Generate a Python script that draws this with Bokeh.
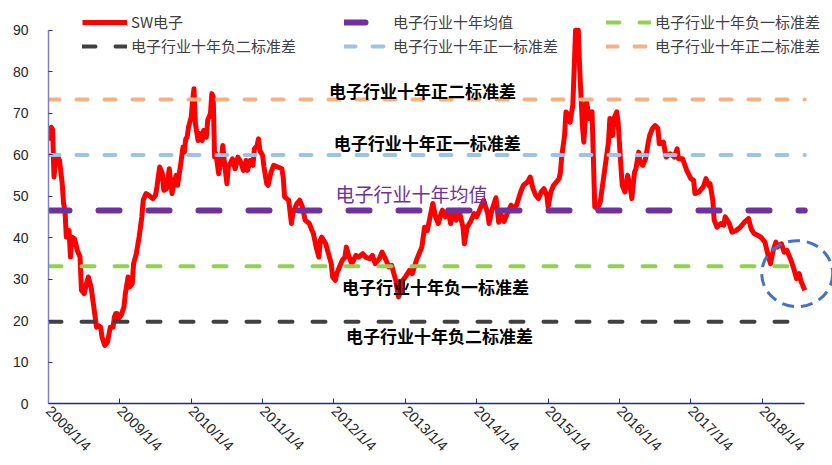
from bokeh.plotting import figure
from bokeh.models import Range1d, FixedTicker, Legend, LegendItem, Label
from bokeh.embed import file_html
from bokeh.resources import INLINE

# SW electronics index valuation, weekly samples counted from 2008/1/4
weeks = [0, 2, 3, 4, 5, 7, 8, 10, 11, 12, 13, 15, 16, 17, 19, 21, 23, 24, 26, 28,
         29, 31, 33, 35, 36, 38, 39, 41, 43, 45, 47, 48, 49, 50, 51, 53, 55, 56, 58, 59,
         61, 62, 64, 66, 67, 68, 69, 71, 73, 76, 78, 79, 81, 83, 84, 86, 88, 90, 91, 93,
         94, 96, 98, 99, 100, 101, 102, 104, 105, 106, 107, 109, 110, 112, 113, 115, 116, 118, 119, 120,
         121, 122, 124, 126, 127, 128, 130, 131, 133, 134, 136, 138, 140, 142, 144, 145, 147, 149, 150, 152,
         153, 154, 156, 157, 159, 160, 162, 164, 167, 170, 171, 172, 175, 177, 178, 181, 183, 185, 187, 190,
         192, 193, 195, 197, 198, 199, 202, 204, 206, 207, 209, 210, 212, 214, 216, 217, 219, 221, 224, 226,
         229, 231, 234, 236, 238, 241, 243, 246, 248, 250, 253, 255, 257, 258, 260, 263, 265, 268, 270, 272,
         274, 276, 279, 280, 282, 284, 286, 287, 289, 291, 293, 295, 297, 299, 302, 303, 305, 308, 310, 312,
         315, 317, 320, 321, 323, 326, 328, 330, 332, 334, 337, 339, 341, 344, 346, 349, 351, 353, 355, 357,
         359, 361, 363, 364, 366, 368, 370, 372, 373, 374, 376, 377, 379, 380, 382, 383, 384, 386, 387, 389,
         390, 392, 394, 396, 397, 398, 400, 402, 404, 406, 408, 409, 411, 412, 414, 415, 417, 418, 420, 422,
         424, 425, 427, 428, 430, 431, 433, 435, 437, 438, 440, 442, 444, 445, 448, 450, 453, 456, 458, 459,
         462, 465, 468, 470, 471, 474, 477, 479, 481, 482, 484, 485, 487, 490, 492, 493, 496, 498, 501, 504,
         507, 510, 512, 514, 517, 519, 522, 524, 526, 528, 530, 531, 534, 536, 538, 541, 543, 545, 547, 548,
         550, 551]
sw_pe = [63.4, 66.6, 66.0, 54.6, 58.6, 59.4, 58.6, 53.0, 48.2, 46.6, 40.1, 41.7, 35.3, 40.1, 39.7, 36.9, 35.3, 27.3, 26.5, 29.3,
         30.5, 28.1, 23.3, 18.4, 18.8, 18.4, 16.0, 14.0, 14.8, 18.4, 18.4, 20.8, 21.7, 21.7, 20.5, 21.3, 23.3, 26.5, 30.5, 28.1,
         28.9, 33.7, 36.1, 40.1, 42.5, 45.0, 49.0, 50.6, 50.2, 49.4, 50.2, 52.2, 57.0, 55.4, 51.4, 51.8, 56.6, 50.6, 52.6, 55.0,
         52.6, 57.0, 61.8, 60.6, 63.8, 64.2, 66.6, 69.1, 73.1, 75.9, 67.5, 63.4, 65.1, 63.4, 65.8, 64.2, 68.3, 69.9, 74.7, 73.9,
         59.4, 60.2, 55.4, 59.4, 62.2, 58.6, 53.0, 57.0, 58.2, 59.0, 56.6, 59.4, 58.2, 56.2, 58.6, 56.2, 58.6, 57.4, 61.4, 62.2,
         63.8, 61.0, 59.8, 57.0, 53.0, 52.6, 55.6, 57.4, 57.0, 56.6, 54.6, 49.8, 49.0, 43.4, 45.8, 48.2, 49.0, 47.4, 44.2, 43.4,
         41.7, 41.0, 37.7, 35.3, 39.3, 40.1, 38.5, 36.1, 33.7, 30.5, 29.7, 31.3, 32.9, 34.5, 35.3, 37.7, 35.3, 33.7, 35.7, 35.3,
         36.1, 35.3, 34.9, 35.7, 33.7, 34.9, 36.5, 34.5, 32.9, 33.3, 29.7, 25.7, 27.3, 29.7, 30.5, 32.1, 31.3, 34.5, 36.1, 37.7,
         42.5, 41.7, 46.6, 48.2, 45.0, 43.4, 45.8, 46.6, 45.0, 46.6, 43.4, 45.8, 44.2, 46.6, 42.5, 38.5, 42.5, 44.2, 45.8, 45.0,
         47.4, 49.0, 45.8, 43.4, 46.6, 49.6, 43.7, 45.4, 43.9, 45.6, 47.8, 47.0, 47.8, 51.0, 52.6, 53.4, 54.6, 51.8, 50.2, 49.4,
         51.0, 51.8, 50.2, 47.4, 51.0, 52.6, 53.4, 54.2, 55.8, 59.8, 64.6, 70.3, 69.5, 67.8, 71.9, 80.7, 90.0, 90.0, 80.7, 67.0,
         63.0, 72.7, 68.7, 70.3, 59.0, 47.4, 47.0, 48.6, 53.4, 58.2, 63.0, 68.7, 64.6, 68.7, 70.3, 67.8, 57.4, 52.6, 51.0, 55.0,
         51.8, 49.4, 55.8, 56.6, 60.6, 58.2, 57.4, 59.0, 63.0, 64.6, 66.3, 67.0, 66.3, 62.6, 63.0, 59.4, 60.2, 59.4, 61.4, 59.0,
         59.0, 56.2, 54.2, 53.8, 50.6, 51.0, 52.2, 54.2, 52.6, 53.0, 49.0, 44.2, 42.5, 43.4, 43.0, 45.0, 43.4, 41.3, 41.7, 42.5,
         43.7, 44.6, 42.1, 41.0, 40.5, 40.1, 38.9, 36.1, 33.7, 36.9, 38.9, 37.7, 38.5, 36.5, 36.9, 34.5, 32.5, 30.1, 31.3, 29.7,
         28.1, 27.3]

# ten-year mean and +/- 1, 2 standard deviation levels
mean_level = 46.5
minus1_level = 33.1
minus2_level = 19.7
plus1_level = 59.9
plus2_level = 73.3

tick_labels = ["2008/1/4", "2009/1/4", "2010/1/4", "2011/1/4", "2012/1/4", "2013/1/4",
               "2014/1/4", "2015/1/4", "2016/1/4", "2017/1/4", "2018/1/4"]
weeks_per_label = 52
y_ticks = [0, 10, 20, 30, 40, 50, 60, 70, 80, 90]

CJK = "Noto Sans CJK SC"

# the frame reaches the top edge so the legend rows have room; the y axis itself stops at 90
p = figure(width=832, height=465, output_backend="svg", toolbar_location=None,
           x_range=Range1d(0, 571.2), y_range=Range1d(0, 97.15),
           min_border_left=48, min_border_right=0, min_border_top=0, min_border_bottom=62)
p.outline_line_color = None
p.xgrid.grid_line_color = None
p.ygrid.grid_line_color = None
p.background_fill_color = "white"

# main index line
sw = p.line(weeks, sw_pe, line_color="#FF0000", line_width=5, line_join="round")

x_span = [weeks[0], weeks[-1]]
def level_line(level, color, width, dash):
    return p.line(x_span, [level, level], line_color=color, line_width=width,
                  line_dash=dash, line_cap="round")

r_mean = level_line(mean_level, "#7030A0", 6, "21 29")
r_m1 = level_line(minus1_level, "#92D050", 4, "13 20")
r_m2 = level_line(minus2_level, "#404040", 4, "13 20")
r_p1 = level_line(plus1_level, "#9DC3E6", 4, "11 17")
r_p2 = level_line(plus2_level, "#F4B183", 4, "11 17")

# dashed highlight around the latest readings
p.ellipse(x=[545.5], y=[31.3], width=71, height=66, width_units="screen", height_units="screen",
          fill_color=None, line_color="#4472C4", line_width=3, line_dash="12 7")

# axes
xa = p.xaxis[0]
xa.ticker = FixedTicker(ticks=[i * weeks_per_label for i in range(len(tick_labels))])
xa.major_label_overrides = {i * weeks_per_label: t for i, t in enumerate(tick_labels)}
xa.bounds = (weeks[0], weeks[-1])
xa.major_label_orientation = -0.7854
xa.axis_line_color = "#1F2D86"
xa.axis_line_width = 1.5
xa.major_tick_line_color = "#1F2D86"
xa.major_tick_in = 5
xa.major_tick_out = 0
xa.minor_tick_line_color = None
xa.major_label_standoff = 5
xa.major_label_text_font = "Liberation Sans"
xa.major_label_text_font_size = "14.5px"
xa.major_label_text_color = "#262626"

ya = p.yaxis[0]
ya.ticker = FixedTicker(ticks=y_ticks)
ya.bounds = (y_ticks[0], y_ticks[-1])
ya.axis_line_color = "#7F7FC0"
ya.axis_line_width = 1.5
ya.major_tick_line_color = "#2E3192"
ya.major_tick_in = 4
ya.major_tick_out = 0
ya.minor_tick_line_color = None
ya.major_label_standoff = 20
ya.major_label_text_font = "Liberation Sans"
ya.major_label_text_font_size = "14px"
ya.major_label_text_color = "#262626"

# in-chart captions for each level
captions = [
    ("电子行业十年正二标准差", plus2_level, 272.4, 9, "#000000", "17px", "bold"),
    ("电子行业十年正一标准差", plus1_level, 276.0, 13, "#000000", "17px", "bold"),
    ("电子行业十年均值", mean_level, 264.5, 17, "#7030A0", "19px", "normal"),
    ("电子行业十年负一标准差", minus1_level, 282.0, -20, "#000000", "17px", "bold"),
    ("电子行业十年负二标准差", minus2_level, 284.8, -14, "#000000", "17px", "bold"),
]
for text, lvl, xc, dy, color, size, style in captions:
    p.add_layout(Label(x=xc, y=lvl, y_offset=dy, text=text, text_align="center",
                       text_baseline="middle", text_color=color, text_font=CJK,
                       text_font_size=size, text_font_style=style))

# two-row legend at the top
def make_legend(items, bottom_offset):
    lg = Legend(items=items, orientation="horizontal", location=(34, bottom_offset),
                glyph_width=45, glyph_height=20, label_height=20, label_width=165,
                label_standoff=4, spacing=48, padding=0, margin=0,
                border_line_color=None, background_fill_alpha=0,
                label_text_font=CJK, label_text_font_size="15px", label_text_color="#404040")
    p.add_layout(lg)

make_legend([LegendItem(label="SW电子", renderers=[sw]),
             LegendItem(label="电子行业十年均值", renderers=[r_mean]),
             LegendItem(label="电子行业十年负一标准差", renderers=[r_m1])], 371)
make_legend([LegendItem(label="电子行业十年负二标准差", renderers=[r_m2]),
             LegendItem(label="电子行业十年正一标准差", renderers=[r_p1]),
             LegendItem(label="电子行业十年正二标准差", renderers=[r_p2])], 347)

open("out.html", "w").write(file_html(p, INLINE))
